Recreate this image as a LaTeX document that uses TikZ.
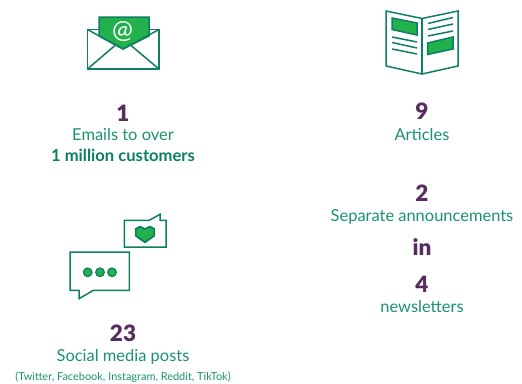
\documentclass[tikz,border=0pt]{standalone}
\usepackage{fontspec}
\setmainfont{Lato}
\newfontfamily\numfont{Lato Black}
\definecolor{strokeg}{HTML}{0F7F63}
\definecolor{fillg}{HTML}{22B14C}
\definecolor{textg}{HTML}{1A9272}
\definecolor{boldg}{HTML}{0B8060}
\definecolor{numc}{HTML}{572C5F}
\tikzset{
  x=1pt,y=-1pt,
  icon/.style={draw=strokeg,line width=1.5pt,line join=miter},
  greenfill/.style={icon,fill=fillg},
  num/.style={anchor=base,inner sep=0pt,text=numc,font=\fontsize{22.5}{24}\selectfont\numfont},
  lab/.style={anchor=base,inner sep=0pt,text=textg,font=\fontsize{16.45}{18}\selectfont},
  labb/.style={anchor=base,inner sep=0pt,text=boldg,font=\fontsize{16.6}{18}\selectfont\bfseries},
  small/.style={anchor=base,inner sep=0pt,text=textg,font=\fontsize{10.95}{12}\selectfont},
}
\begin{document}
\begin{tikzpicture}
\useasboundingbox (0,0) rectangle (522,383);
% envelope
\draw[icon,fill=white] (87.5,29.5) -- (159,29.5) -- (159,69) -- (87.5,69) -- cycle;
\draw[greenfill] (99,17) -- (149,17) -- (149,36) -- (123,49) -- (99,36) -- cycle;
\draw[icon] (87.5,29.5) -- (123,49) -- (159,29.5);
\draw[icon] (87.5,69) -- (115,45.5);
\draw[icon] (159,69) -- (131,45.5);
\node[inner sep=0pt,text=white,font=\fontsize{25}{26}\selectfont] (at) at (122.5,31) {@};
% book
\draw[icon,fill=white] (386,11) -- (422,18.5) -- (458,11) -- (458,66) -- (422,74) -- (386,66) -- cycle;
\draw[icon] (422,18.5) -- (422,74);
\draw[greenfill] (392,18) -- (417,23) -- (417,35) -- (392,29.5) -- cycle;
\draw[greenfill] (427.5,43) -- (453,37) -- (453,49) -- (427.5,54.5) -- cycle;
\draw[icon] (392,37) -- (417,42);
\draw[icon] (392,42.5) -- (417,48);
\draw[icon] (392,49) -- (417,54);
\draw[icon] (428,23.5) -- (453,17.5);
\draw[icon] (428,29.5) -- (453,24);
\draw[icon] (428,36) -- (453,31);
% small bubble
\draw[icon,fill=white] (124.3,220.3) -- (149.3,220.3) -- (160,214.3) -- (160,220.3) -- (166,220.3) -- (166,247) -- (124.3,247) -- cycle;
\draw[greenfill,line width=1.8pt] (135.7,229) -- (140,226.7) -- (145,229) -- (150,226.7) -- (154.3,229) -- (154.3,235.7) -- (145,242.3) -- (135.7,235.7) -- cycle;
% big bubble
\draw[icon,fill=white] (70,252) -- (129.3,252) -- (129.3,290.3) -- (93.3,290.3) -- (79,298.7) -- (79,290.3) -- (70,290.3) -- cycle;
\draw[greenfill,line width=1.2pt] (87.7,272.3) circle (4.3);
\draw[greenfill,line width=1.2pt] (100,272.3) circle (4.3);
\draw[greenfill,line width=1.2pt] (112,272.3) circle (4.3);
% texts
\node[num] (n1) at (123,121) {1};
\node[lab] (t1) at (123,140.5) {Emails to over};
\node[labb] (t1b) at (123,161) {1 million customers};
\node[num] (n9) at (422,119) {9};
\node[lab] (t9) at (422,140) {Articles};
\node[num] (n2) at (422,201) {2};
\node[lab] (t2) at (422,221) {Separate announcements};
\node[num] (nin) at (422,255) {in};
\node[num] (n4) at (422,292) {4};
\node[lab] (t4) at (422,312) {newsletters};
\node[num] (n23) at (123,341) {23};
\node[lab] (t23) at (123,361) {Social media posts};
\node[small] (t23b) at (123,380) {(Twitter, Facebook, Instagram, Reddit, TikTok)};
\end{tikzpicture}
\end{document}
